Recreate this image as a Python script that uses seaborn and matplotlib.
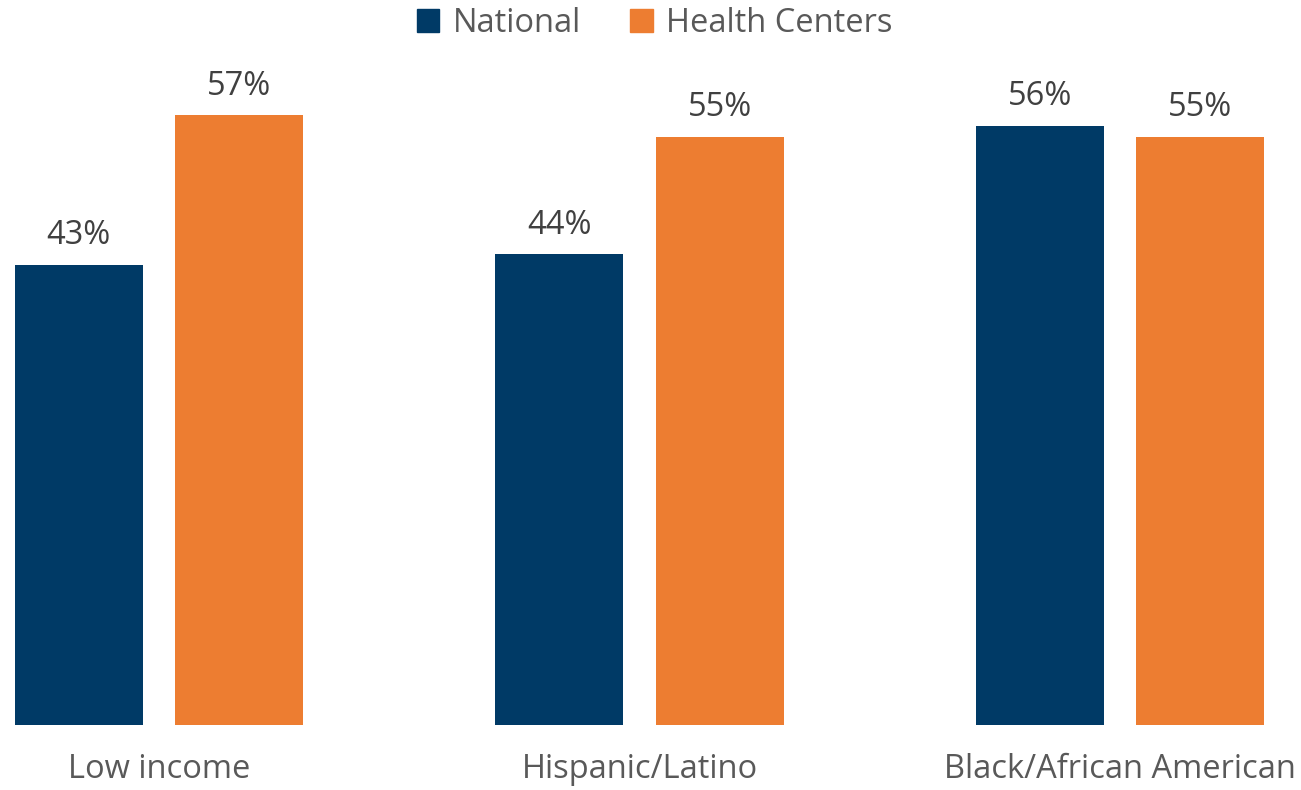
import matplotlib
matplotlib.use('Agg')
import matplotlib.pyplot as plt
import seaborn as sns
import pandas as pd

# %% data
groups = ['Low income', 'Hispanic/Latino', 'Black/African American']
national = [43, 44, 56]
health_centers = [57, 55, 55]
series = ['National', 'Health Centers']
colors = ['#003A66', '#ED7D31']

df = pd.DataFrame({
    'group': groups * 2,
    'series': [series[0]] * 3 + [series[1]] * 3,
    'value': national + health_centers,
})

# %% plot
sns.set_style('white')
plt.rcParams['font.family'] = ['Open Sans', 'DejaVu Sans']

fig = plt.figure(figsize=(13.01, 7.90), dpi=100)
ax = fig.add_axes([0, 65 / 790, 1, 1 - 65 / 790])

sns.barplot(data=df, x='group', y='value', hue='series', palette=colors,
            width=0.668, gap=0.2025, ax=ax, legend=False, saturation=1,
            linewidth=0)

for cont in ax.containers:
    ax.bar_label(cont, labels=[f'{v:.0f}%' for v in cont.datavalues],
                 padding=9, fontsize=23.5, color='#404040')

ax.set_xlim(-0.331, 2.377)
ax.set_ylim(0, 67.76)
ax.set_xlabel('')
ax.set_ylabel('')
ax.set_yticks([])
ax.tick_params(axis='x', length=0, pad=20, labelsize=23.5, labelcolor='#595959')
sns.despine(ax=ax, left=True, bottom=True)

handles = [plt.Rectangle((0, 0), 1, 1, color=c) for c in colors]
fig.legend(handles, series, loc='upper center', bbox_to_anchor=(0.503, 1.028),
           ncol=2, frameon=False, fontsize=23.5, labelcolor='#595959',
           handlelength=0.7, handleheight=0.7, handletextpad=0.4,
           columnspacing=1.5)

plt.savefig('out.png', dpi=100)
